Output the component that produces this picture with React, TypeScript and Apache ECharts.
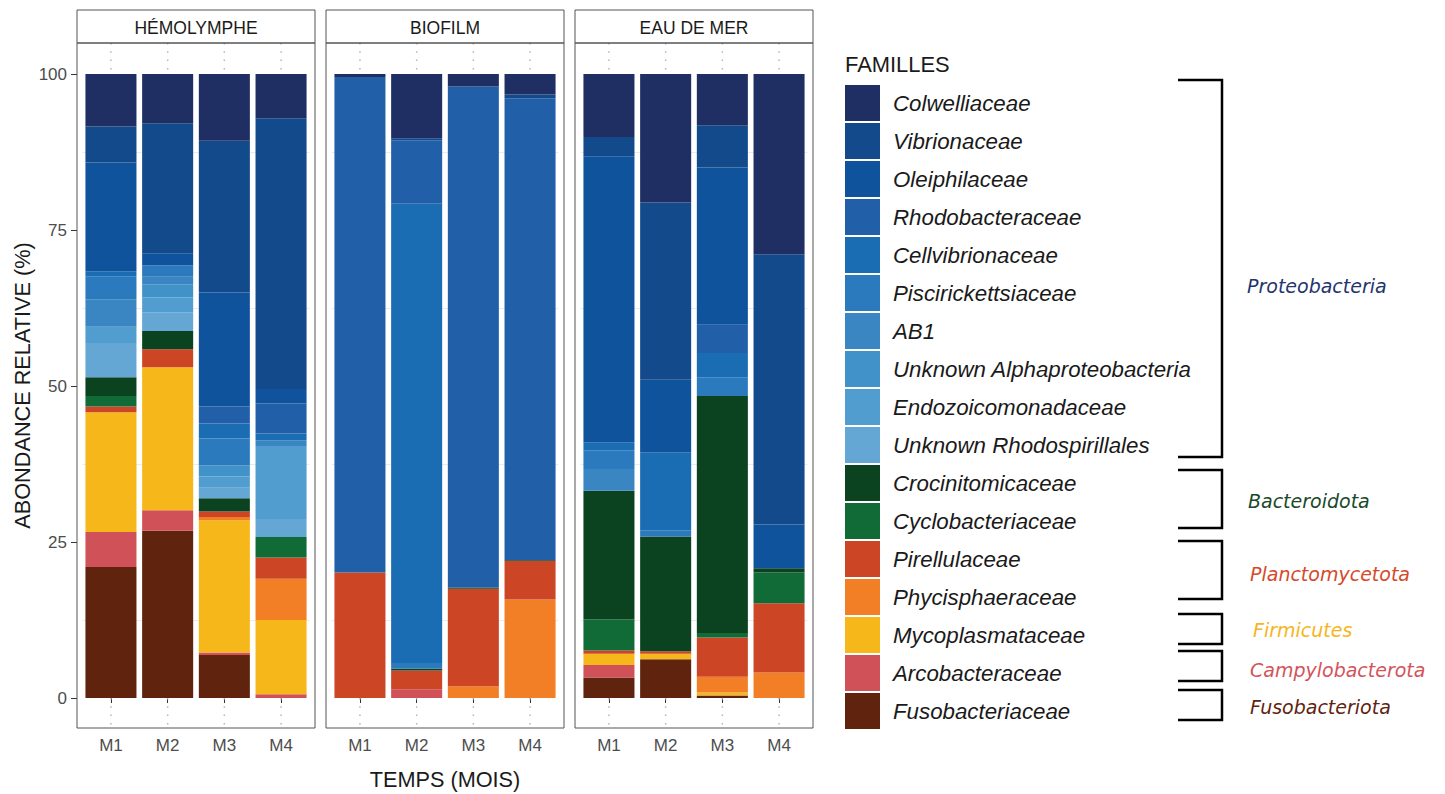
import React, { useEffect, useRef } from "react";
import * as echarts from "echarts";

const panels = ["HÉMOLYMPHE", "BIOFILM", "EAU DE MER"];
const months = ["M1", "M2", "M3", "M4"];

// Values per family, in order: HÉMOLYMPHE M1–M4, BIOFILM M1–M4, EAU DE MER M1–M4
const colwelliaceae = [8.4, 7.9, 10.7, 7.1, 0.5, 10.3, 2.0, 3.3, 10.1, 20.6, 8.2, 28.9];
const vibrionaceae = [5.8, 20.9, 24.3, 43.4, 0, 0.3, 0, 0.6, 3.1, 28.4, 6.8, 43.3];
const oleiphilaceae = [17.4, 1.9, 18.3, 2.3, 0, 0, 0, 0, 45.8, 11.6, 25.2, 7.0];
const rhodobacteraceae = [0, 0, 2.7, 4.8, 79.4, 10.2, 80.3, 74.0, 0, 0, 4.5, 0];
const cellvibrionaceae = [0.8, 0, 2.4, 1.1, 0, 73.6, 0, 0, 1.3, 12.5, 3.9, 0];
const piscirickettsiaceae = [3.7, 1.8, 4.3, 0, 0, 0.9, 0, 0, 3.0, 1.0, 3.0, 0];
const ab1 = [4.4, 1.2, 0, 0.9, 0, 0, 0, 0, 3.5, 0, 0, 0];
const unknownAlphaproteobacteria = [0, 2.1, 1.8, 0, 0, 0, 0, 0, 0, 0, 0, 0];
const endozoicomonadaceae = [2.6, 2.4, 1.8, 11.7, 0, 0, 0, 0, 0, 0, 0, 0];
const unknownRhodospirillales = [5.5, 3.0, 1.7, 2.9, 0, 0, 0, 0, 0, 0, 0, 0];
const crocinitomicaceae = [3.0, 2.9, 2.1, 0, 0, 0.3, 0.2, 0.1, 20.6, 18.4, 38.0, 0.7];
const cyclobacteriaceae = [1.7, 0, 0, 3.3, 0, 0, 0, 0, 5.0, 0, 0.7, 4.9];
const pirellulaceae = [0.9, 2.9, 0.9, 3.4, 20.1, 3.0, 15.6, 6.2, 0.5, 0.4, 6.3, 11.1];
const phycisphaeraceae = [0, 0, 0.5, 6.6, 0, 0, 1.9, 15.8, 0, 0, 2.5, 4.1];
const mycoplasmataceae = [19.2, 22.9, 21.2, 11.9, 0, 0, 0, 0, 1.8, 0.9, 0.5, 0];
const arcobacteraceae = [5.6, 3.3, 0.4, 0.6, 0, 1.4, 0, 0, 2.0, 0, 0, 0];
const fusobacteriaceae = [21.0, 26.8, 6.9, 0, 0, 0, 0, 0, 3.3, 6.2, 0.4, 0];

// Legend order (top to bottom)
const familyNames = [
  "Colwelliaceae", "Vibrionaceae", "Oleiphilaceae", "Rhodobacteraceae", "Cellvibrionaceae",
  "Piscirickettsiaceae", "AB1", "Unknown Alphaproteobacteria", "Endozoicomonadaceae",
  "Unknown Rhodospirillales", "Crocinitomicaceae", "Cyclobacteriaceae", "Pirellulaceae",
  "Phycisphaeraceae", "Mycoplasmataceae", "Arcobacteraceae", "Fusobacteriaceae",
];
const familyValues = [
  colwelliaceae, vibrionaceae, oleiphilaceae, rhodobacteraceae, cellvibrionaceae,
  piscirickettsiaceae, ab1, unknownAlphaproteobacteria, endozoicomonadaceae,
  unknownRhodospirillales, crocinitomicaceae, cyclobacteriaceae, pirellulaceae,
  phycisphaeraceae, mycoplasmataceae, arcobacteraceae, fusobacteriaceae,
];
const familyColors = [
  "#1f2e63", "#134a8c", "#0f539d", "#2160a8", "#1a6db3",
  "#2a7abd", "#3a86c2", "#4292ca", "#529dd0",
  "#64a7d4", "#0b4320", "#106b37", "#cc4626",
  "#f27e26", "#f6b71b", "#d05258", "#5f230e",
];

const phylumNames = ["Proteobacteria", "Bacteroidota", "Planctomycetota", "Firmicutes", "Campylobacterota", "Fusobacteriota"];
const phylumColors = ["#24356e", "#1a4a2a", "#d44a2a", "#f8b41c", "#d3545a", "#5f2410"];
const phylumTop = [80, 470, 541, 614, 651, 690];
const phylumBottom = [457, 528, 599, 644, 681, 720];
const phylumLabelY = [286, 501, 574, 630, 670, 707];
const phylumLabelX = [1247, 1248, 1250, 1253, 1250, 1250];

const FONT = "'Liberation Sans', Arial, Helvetica, sans-serif";

export default function App() {
  const ref = useRef<HTMLDivElement>(null);

  useEffect(() => {
    const el = ref.current;
    if (!el) return;
    const chart = echarts.init(el, null, { renderer: "svg" });

    const panelLeft = [77, 326, 575];
    const panelW = 238;
    const inset = 5.6;
    const plotTop = 74;
    const plotH = 624;
    const panelTop = 43;
    const panelBottom = 728;
    const stripTop = 10;

    const grid = panelLeft.map((l) => ({
      left: l + inset,
      top: plotTop,
      width: panelW - 2 * inset,
      height: plotH,
    }));

    const xAxis = panelLeft.map((_, i) => ({
      type: "category",
      gridIndex: i,
      data: months,
      offset: panelBottom - (plotTop + plotH),
      axisLine: { show: false },
      axisTick: { show: true, alignWithLabel: true, length: 5, lineStyle: { color: "#333" } },
      axisLabel: { fontSize: 17, color: "#4d4d4d", margin: 9, fontFamily: FONT },
      splitLine: { show: false },
    }));

    const yAxis = panelLeft.map((_, i) => ({
      type: "value",
      gridIndex: i,
      min: 0,
      max: 100,
      interval: 25,
      offset: inset,
      axisLine: { show: false },
      axisTick: { show: i === 0, length: 6, lineStyle: { color: "#333" } },
      axisLabel: { show: i === 0, fontSize: 17, color: "#4d4d4d", margin: 10, fontFamily: FONT },
      splitLine: { show: false },
      minorTick: { show: false, splitNumber: 2 },
      minorSplitLine: { show: true, lineStyle: { color: "#ebebeb", width: 1 } },
    }));

    const series: any[] = [];
    panels.forEach((_, g) => {
      for (let k = familyNames.length - 1; k >= 0; k--) {
        series.push({
          type: "bar",
          name: familyNames[k],
          xAxisIndex: g,
          yAxisIndex: g,
          stack: "panel" + g,
          barWidth: "90%",
          data: familyValues[k].slice(g * 4, g * 4 + 4),
          itemStyle: { color: familyColors[k] },
          emphasis: { disabled: true },
          z: 3,
        });
      }
    });

    const graphic: any[] = [];
    panels.forEach((p, g) => {
      const l = panelLeft[g];
      graphic.push({
        type: "rect",
        shape: { x: l, y: stripTop, width: panelW, height: panelTop - stripTop },
        style: { fill: "#ffffff", stroke: "#555555", lineWidth: 1 },
        z: 5,
      });
      graphic.push({
        type: "text",
        x: l + panelW / 2,
        y: (stripTop + panelTop) / 2 + 1,
        style: {
          text: p, textAlign: "center", textVerticalAlign: "middle",
          fontSize: 17.5, fontFamily: FONT, fill: "#1a1a1a",
        },
        z: 6,
      });
      graphic.push({
        type: "rect",
        shape: { x: l, y: panelTop, width: panelW, height: panelBottom - panelTop },
        style: { fill: "none", stroke: "#555555", lineWidth: 1 },
        z: 5,
      });
    });

    graphic.push({
      type: "text",
      x: 445, y: 779,
      style: {
        text: "TEMPS (MOIS)", textAlign: "center", textVerticalAlign: "middle",
        fontSize: 21.7, fontFamily: FONT, fill: "#1a1a1a",
      },
    });
    graphic.push({
      type: "text",
      x: 22, y: 385.5,
      rotation: Math.PI / 2,
      style: {
        text: "ABONDANCE RELATIVE (%)", textAlign: "center", textVerticalAlign: "middle",
        fontSize: 21.7, fontFamily: FONT, fill: "#1a1a1a",
      },
    });
    graphic.push({
      type: "text",
      x: 845, y: 64,
      style: {
        text: "FAMILLES", textAlign: "left", textVerticalAlign: "middle",
        fontSize: 21.9, fontFamily: FONT, fill: "#1a1a1a",
      },
    });

    phylumNames.forEach((name, i) => {
      graphic.push({
        type: "polyline",
        shape: {
          points: [
            [1178, phylumTop[i]], [1222, phylumTop[i]],
            [1222, phylumBottom[i]], [1178, phylumBottom[i]],
          ],
        },
        style: { stroke: "#000000", lineWidth: 2.5, fill: "none" },
      });
      graphic.push({
        type: "text",
        x: phylumLabelX[i], y: phylumLabelY[i],
        style: {
          text: name, textAlign: "left", textVerticalAlign: "middle",
          fontSize: 19, fontStyle: "italic", fontFamily: "'DejaVu Sans', Verdana, sans-serif",
          fill: phylumColors[i],
        },
      });
    });

    const option: any = {
      animation: false,
      textStyle: { fontFamily: FONT },
      grid,
      xAxis,
      yAxis,
      series,
      legend: {
        data: familyNames,
        orient: "vertical",
        left: 845,
        top: 85,
        padding: 0,
        itemWidth: 35,
        itemHeight: 36,
        itemGap: 2,
        icon: "rect",
        selectedMode: false,
        textStyle: {
          fontSize: 22.3, fontStyle: "italic", color: "#1a1a1a",
          fontFamily: FONT, padding: [0, 0, 0, 8],
        },
      },
      graphic,
    };

    chart.setOption(option);

    // dotted vertical major x gridlines, located through the axes
    const dotted: any[] = [];
    panels.forEach((_, g) => {
      months.forEach((m) => {
        const px = chart.convertToPixel({ xAxisIndex: g } as any, m) as unknown as number;
        [[panelTop, plotTop], [plotTop + plotH, panelBottom]].forEach(([y1, y2]) => {
          dotted.push({
            type: "line",
            shape: { x1: px, y1, x2: px, y2 },
            style: { stroke: "#b5b5b5", lineWidth: 1.5, lineDash: [1.5, 6.8] },
            z: 1,
          });
        });
      });
    });
    chart.setOption({ graphic: [...graphic, ...dotted] });

    return () => {
      chart.dispose();
    };
  }, []);

  return (
    <div
      ref={ref}
      style={{ position: "absolute", left: 0, top: 0, width: 1445, height: 794, background: "#ffffff" }}
    />
  );
}
